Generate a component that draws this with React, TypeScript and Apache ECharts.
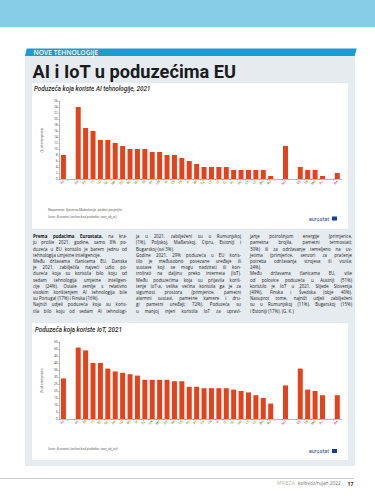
import React, { useEffect, useRef } from 'react';
import * as echarts from 'echarts';

// ---------- Chart 1: enterprises using AI technologies, 2021 (%) ----------
const aiEuCodes = ['EU'];
const aiEuValues = [8];
const aiMemberCodes = ['DK', 'PT', 'FI', 'LU', 'NL', 'MT', 'DE', 'BE', 'SE', 'SI', 'AT', 'HR', 'IE', 'ES', 'FR', 'IT', 'SK', 'CZ', 'LV', 'LT', 'EL', 'PL', 'HU', 'CY', 'EE', 'BG', 'RO'];
const aiMemberValues = [24, 17, 16, 13, 13, 12, 11, 10, 10, 10, 9, 9, 8, 8, 7, 6, 5, 4, 4, 4, 4, 3, 3, 3, 3, 3, 1];
const aiEftaCodes = ['NO'];
const aiEftaValues = [11];
const aiCandidateCodes = ['RS', 'TR', 'ME', 'AL'];
const aiCandidateValues = [4, 3, 3, 1];
const aiOtherCodes = ['BA'];
const aiOtherValues = [2];
const aiYMax = 26;
const aiYStep = 2;

// ---------- Chart 2: enterprises using IoT, 2021 (%) ----------
const iotEuCodes = ['EU'];
const iotEuValues = [29];
const iotMemberCodes = ['AT', 'SI', 'FI', 'SE', 'NL', 'DK', 'LU', 'BE', 'IE', 'CZ', 'HR', 'MT', 'DE', 'SK', 'ES', 'PL', 'PT', 'CY', 'FR', 'IT', 'LT', 'EL', 'HU', 'LV', 'EE', 'BG', 'RO'];
const iotMemberValues = [51, 49, 40, 40, 36, 34, 33, 32, 31, 28, 28, 28, 28, 27, 27, 23, 23, 22, 22, 22, 22, 21, 20, 19, 17, 15, 11];
const iotEftaCodes = ['NO'];
const iotEftaValues = [24];
const iotCandidateCodes = ['RS', 'TR', 'ME', 'AL'];
const iotCandidateValues = [36, 21, 20, 17];
const iotOtherCodes = ['BA'];
const iotOtherValues = [17];
const iotYMax = 55;
const iotYStep = 5;

// ---------- texts ----------
const pageTitle = 'AI i IoT u poduzećima EU';
const sectionLabel = 'NOVE TEHNOLOGIJE';
const aiSubtitle = 'Poduzeća koja koriste AI tehnologije, 2021';
const iotSubtitle = 'Poduzeća koja koriste IoT, 2021';
const aiNotes = ['Napomena: Sjeverna Makedonija: podaci povjerljivi', 'Izvor: Eurostat (online kod podatka: isoc_eb_ai)'];
const iotNotes = ['Izvor: Eurostat (online kod podatka: isoc_eb_iot)'];
const yAxisName = '(% of enterprises)';

const col1 = [
  'Prema podacima Eurostata, na kra-',
  'ju prošle 2021. godine, samo 8% po-',
  'duzeća u EU koristilo je barem jednu od',
  'tehnologija umjetne inteligencije.',
  'Među državama članicama EU, Danska',
  'je 2021. zabilježila najveći udio po-',
  'duzeća koja su koristila bilo koju od',
  'sedam tehnologija umjetne inteligen-',
  'cije (24%). Ostale zemlje s relativno',
  'visokim korištenjem AI tehnologija bile',
  'su Portugal (17%) i Finska (16%).',
  'Najniži udjeli poduzeća koja su koris-',
  'tila bilo koju od sedam AI tehnologi-',
];
const col1Ends = [3, 10];
const col2 = [
  'ja u 2021. zabilježeni su u Rumunjskoj',
  '(1%), Poljskoj, Mađarskoj, Cipru, Estoniji i',
  'Bugarskoj (svi 3%).',
  'Godine 2021. 29% poduzeća u EU koris-',
  'tilo je međusobno povezane uređaje ili',
  'sustave koji se mogu nadzirati ili kon-',
  'trolirati na daljinu preko interneta (IoT).',
  'Među poduzećima koja su prijavila koriš-',
  'tenje IoT-a, velika većina koristila ga je za',
  'sigurnost prostora (primjerice, pametni',
  'alarmni sustavi, pametne kamere i dru-',
  'gi pametni uređaji; 72%). Poduzeća su',
  'u manjoj mjeri koristila IoT za upravl-',
];
const col2Ends = [2];
const col3 = [
  'janje potrošnjom energije (primjerice,',
  'pametna brojila, pametni termostati;',
  '30%) ili za održavanje temeljeno na uv-',
  'jetima (primjerice, senzori za praćenje',
  'potreba održavanja strojeva ili vozila;',
  '24%).',
  'Među državama članicama EU, više',
  'od polovice poduzeća u Austriji (51%)',
  'koristilo je IoT u 2021. Slijede Slovenija',
  '(49%), Finska i Švedska (obje 40%).',
  'Nasuprot tome, najniži udjeli zabilježeni',
  'su u Rumunjskoj (11%), Bugarskoj (15%)',
  'i Estoniji (17%). (G. K.)',
];
const col3Ends = [5, 12];

const BAR = '#e2431c';
const AXIS = '#8c8c8c';
const LBL = '#555';

function build(groups: [string[], number[]][]) {
  const cats: string[] = [];
  const vals: (number | string)[] = [];
  groups.forEach(([codes, values], gi) => {
    if (gi > 0) {
      cats.push(' '.repeat(gi));
      vals.push('-');
    }
    codes.forEach((c, i) => {
      cats.push(c);
      vals.push(values[i]);
    });
  });
  return { cats, vals };
}

function makeOption(p: {
  groups: [string[], number[]][];
  yMax: number;
  yStep: number;
  gridTop: number;
  gridH: number;
  subtitle: string;
  subX: number;
  subY: number;
  notes: string[];
  noteY: number;
  logoY: number;
}) {
  const { cats, vals } = build(p.groups);
  const graphic: any[] = [
    {
      type: 'text',
      x: p.subX,
      y: p.subY,
      style: {
        text: p.subtitle,
        fontSize: 6.3,
        fontStyle: 'italic',
        fontWeight: 500,
        fontFamily: 'Roboto',
        fill: '#1e1e1e',
        verticalAlign: 'middle',
      },
    },
    ...p.notes.map((n, i) => ({
      type: 'text',
      x: 16,
      y: p.noteY + i * 6.8,
      style: {
        text: n,
        fontSize: 3.4,
        fontStyle: 'italic',
        fontFamily: 'Roboto',
        fill: '#666',
        verticalAlign: 'middle',
      },
    })),
    {
      type: 'text',
      x: 277,
      y: p.logoY,
      style: { text: 'eurostat', fontSize: 5.4, fontFamily: 'Roboto', fill: '#2a4b8d', verticalAlign: 'middle' },
    },
    {
      type: 'rect',
      shape: { x: 300, y: p.logoY - 2, width: 5, height: 4 },
      style: { fill: '#173f98' },
    },
  ];
  return {
    animation: false,
    grid: { left: 22.5, top: p.gridTop, width: 286.5, height: p.gridH, containLabel: false },
    xAxis: {
      type: 'category',
      data: cats,
      axisLine: { lineStyle: { color: AXIS, width: 0.6 } },
      axisTick: { show: true, length: 1.5, lineStyle: { color: AXIS, width: 0.5 } },
      axisLabel: { interval: 0, rotate: 45, fontSize: 3.4, color: LBL, margin: 2, fontFamily: 'Roboto' },
    },
    yAxis: {
      type: 'value',
      min: 0,
      max: p.yMax,
      interval: p.yStep,
      name: yAxisName,
      nameLocation: 'middle',
      nameGap: 11,
      nameRotate: 90,
      nameTextStyle: { fontSize: 3.2, color: LBL, fontFamily: 'Roboto' },
      axisLine: { show: true, lineStyle: { color: AXIS, width: 0.6 } },
      axisTick: { show: true, length: 1.5, lineStyle: { color: AXIS, width: 0.5 } },
      axisLabel: { fontSize: 3.4, color: LBL, margin: 2, fontFamily: 'Roboto' },
      splitLine: { show: false },
    },
    series: [{ type: 'bar', data: vals, barWidth: 5, itemStyle: { color: BAR } }],
    graphic,
  };
}

const aiOption = makeOption({
  groups: [
    [aiEuCodes, aiEuValues],
    [aiMemberCodes, aiMemberValues],
    [aiEftaCodes, aiEftaValues],
    [aiCandidateCodes, aiCandidateValues],
    [aiOtherCodes, aiOtherValues],
  ],
  yMax: aiYMax,
  yStep: aiYStep,
  gridTop: 18,
  gridH: 78,
  subtitle: aiSubtitle,
  subX: 2,
  subY: 6,
  notes: aiNotes,
  noteY: 127,
  logoY: 135.5,
});

const iotOption = makeOption({
  groups: [
    [iotEuCodes, iotEuValues],
    [iotMemberCodes, iotMemberValues],
    [iotEftaCodes, iotEftaValues],
    [iotCandidateCodes, iotCandidateValues],
    [iotOtherCodes, iotOtherValues],
  ],
  yMax: iotYMax,
  yStep: iotYStep,
  gridTop: 19,
  gridH: 77,
  subtitle: iotSubtitle,
  subX: 3,
  subY: 6.5,
  notes: iotNotes,
  noteY: 126.3,
  logoY: 128,
});

function Chart({ option, left, top, width, height }: any) {
  const ref = useRef<HTMLDivElement>(null);
  useEffect(() => {
    const chart = echarts.init(ref.current as HTMLDivElement, null, { renderer: 'svg' });
    chart.setOption(option);
    return () => chart.dispose();
  }, [option]);
  return <div ref={ref} style={{ position: 'absolute', left, top, width, height, background: '#fff' }} />;
}

const S = (v: number) => v * 2;
const LINE_Y0 = 233.4;
const LINE_H = 6.2;
const BODY_FS = 4.4;

function Column({ x, w, lines, ends, first }: { x: number; w: number; lines: string[]; ends: number[]; first?: boolean }) {
  return (
    <>
      {lines.map((t, i) => {
        const isEnd = ends.includes(i);
        let content: any = t;
        if (first && i === 0) {
          const b = 'Prema podacima Eurostata,';
          content = (
            <>
              <b style={{ fontWeight: 700, color: '#111' }}>{b}</b>
              {t.slice(b.length)}
            </>
          );
        }
        return (
          <div
            key={i}
            style={{
              position: 'absolute',
              left: S(x),
              top: S(LINE_Y0 + i * LINE_H),
              width: S(w),
              height: S(LINE_H),
              lineHeight: S(LINE_H) + 'px',
              fontSize: S(BODY_FS),
              whiteSpace: 'nowrap',
              textAlign: 'justify',
              textAlignLast: isEnd ? 'left' : 'justify',
              color: '#222',
              fontFamily: '"Open Sans", "Noto Sans", sans-serif',
            } as any}
          >
            {content}
          </div>
        );
      })}
    </>
  );
}

export default function App() {
  return (
    <div style={{ position: 'absolute', left: 0, top: 0, width: 375, height: 499, overflow: 'hidden', background: '#fff' }}>
      {/* top band */}
      <div style={{ position: 'absolute', left: 0, top: 0, width: 375, height: 27, background: '#87cde8' }} />
      {/* grey panel */}
      <div style={{ position: 'absolute', left: 25, top: 56, width: 330, height: 410, background: '#e5ebef' }} />
      {/* section banner */}
      <svg style={{ position: 'absolute', left: 0, top: 0 }} width={375} height={60}>
        <polygon points="26.8,48.5 356.8,48.5 354.6,56 25,56" fill="#1c9ad5" />
      </svg>
      {/* footer line */}
      <div style={{ position: 'absolute', left: 0, top: 477.5, width: 354, height: 1, background: '#c9c9c9' }} />

      <Chart option={aiOption} left={32} top={83} width={316} height={146} />
      <Chart option={iotOption} left={32} top={323} width={316} height={137} />

      {/* text layer, drawn at 2x and scaled down */}
      <div
        style={{
          position: 'absolute',
          left: 0,
          top: 0,
          width: 750,
          height: 998,
          transform: 'scale(0.5)',
          transformOrigin: '0 0',
          pointerEvents: 'none',
        }}
      >
        <div
          style={{
            position: 'absolute',
            left: S(33.5),
            top: S(48.7),
            height: S(7),
            lineHeight: S(7) + 'px',
            fontSize: S(6.7),
            fontWeight: 600,
            color: '#fff',
            fontFamily: '"Open Sans", sans-serif',
            whiteSpace: 'nowrap',
          }}
        >
          {sectionLabel}
        </div>
        <div
          style={{
            position: 'absolute',
            left: S(32.5),
            top: S(62.8),
            lineHeight: S(18.2) + 'px',
            fontSize: S(18.2),
            fontWeight: 700,
            color: '#1b1b1b',
            fontFamily: 'Roboto, sans-serif',
            whiteSpace: 'nowrap',
          }}
        >
          {pageTitle}
        </div>

        <Column x={33} w={94} lines={col1} ends={col1Ends} first />
        <Column x={136} w={105} lines={col2} ends={col2Ends} />
        <Column x={250} w={102} lines={col3} ends={col3Ends} />

        <div
          style={{
            position: 'absolute',
            left: S(277),
            top: S(480.5),
            lineHeight: S(6) + 'px',
            fontSize: S(4.8),
            color: '#b0b0b0',
            fontFamily: '"Open Sans", sans-serif',
            whiteSpace: 'nowrap',
            letterSpacing: 1,
          }}
        >
          MREŽA
        </div>
        <div
          style={{
            position: 'absolute',
            left: S(298),
            top: S(480.5),
            lineHeight: S(6) + 'px',
            fontSize: S(4.8),
            color: '#6e6e6e',
            fontFamily: '"Open Sans", sans-serif',
            whiteSpace: 'nowrap',
          }}
        >
          kolovoz/rujan 2022
        </div>
        <div
          style={{
            position: 'absolute',
            left: S(347.5),
            top: S(480.5),
            lineHeight: S(6) + 'px',
            fontSize: S(5.2),
            fontWeight: 700,
            color: '#333',
            fontFamily: '"Open Sans", sans-serif',
            whiteSpace: 'nowrap',
          }}
        >
          17
        </div>
      </div>
    </div>
  );
}
